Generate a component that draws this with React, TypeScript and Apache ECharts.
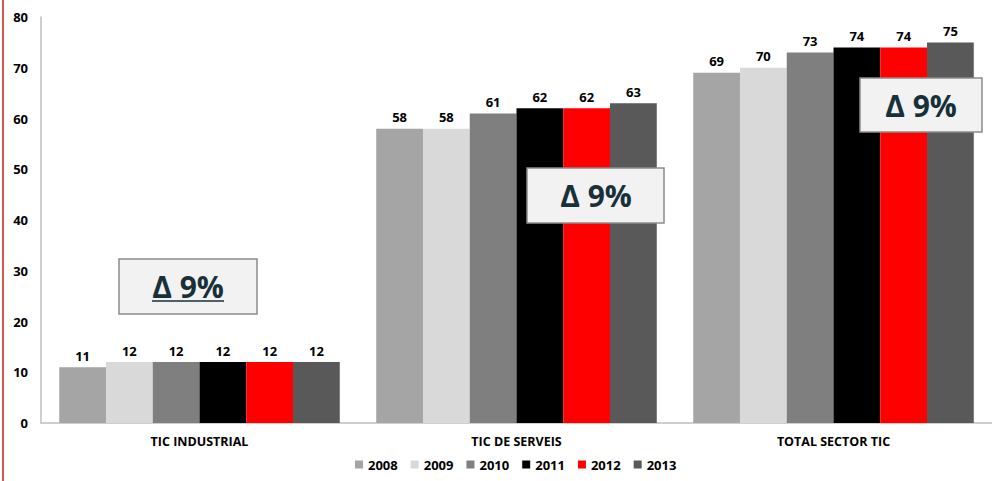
import React, { useEffect, useRef } from "react";
import * as echarts from "echarts";

const categories = ["TIC INDUSTRIAL", "TIC DE SERVEIS", "TOTAL SECTOR TIC"];
const years = ["2008", "2009", "2010", "2011", "2012", "2013"];
const values2008 = [11, 58, 69];
const values2009 = [12, 58, 70];
const values2010 = [12, 61, 73];
const values2011 = [12, 62, 74];
const values2012 = [12, 62, 74];
const values2013 = [12, 63, 75];
const seriesValues = [values2008, values2009, values2010, values2011, values2012, values2013];
const colors = ["#a5a5a5", "#d9d9d9", "#7f7f7f", "#000000", "#ff0000", "#595959"];
const yTicks = { min: 0, max: 80, interval: 10 };
const annotationText = "Δ 9%";

const FONT = "'Open Sans', sans-serif";

export default function App() {
  const ref = useRef<HTMLDivElement>(null);
  useEffect(() => {
    if (!ref.current) return;
    const chart = echarts.init(ref.current, null, { renderer: "svg" });
    const boxStyle = { fill: "#f2f2f2", stroke: "#8c8c8c", lineWidth: 1.5 };
    const textStyle = {
      text: annotationText,
      fill: "#17303a",
      font: `bold 30px ${FONT}`,
      textAlign: "center",
      textVerticalAlign: "middle",
    };
    chart.setOption({
      animation: false,
      textStyle: { fontFamily: FONT },
      grid: { left: 41, right: -9, top: 17, bottom: 58, containLabel: false },
      legend: {
        bottom: 5,
        left: 350,
        itemWidth: 8,
        itemHeight: 8,
        itemGap: 13,
        icon: "rect",
        textStyle: { fontSize: 13, fontWeight: "bold", color: "#000", fontFamily: FONT },
        data: years,
      },
      xAxis: {
        type: "category",
        data: categories,
        axisLine: { lineStyle: { color: "#bfbfbf", width: 1.5 } },
        axisTick: { show: false },
        axisLabel: { fontSize: 12.5, fontWeight: "bold", color: "#000", margin: 12, fontFamily: FONT },
      },
      yAxis: {
        type: "value",
        min: yTicks.min,
        max: yTicks.max,
        interval: yTicks.interval,
        axisLine: { show: true, lineStyle: { color: "#bfbfbf", width: 1.5 } },
        axisTick: { show: false },
        splitLine: { show: false },
        axisLabel: { fontSize: 13, fontWeight: "bold", color: "#000", margin: 13, fontFamily: FONT },
      },
      series: years.map((y, i) => ({
        name: y,
        type: "bar",
        data: seriesValues[i],
        barGap: "0%",
        barCategoryGap: "11.5%",
        itemStyle: { color: colors[i] },
        label: {
          show: true,
          position: "top",
          distance: 5,
          fontSize: 13,
          fontWeight: "bold",
          color: "#000",
          fontFamily: FONT,
        },
      })),
      graphic: [
        {
          type: "line",
          shape: { x1: 3, y1: 0, x2: 3, y2: 481 },
          style: { stroke: "#c81e1e", lineWidth: 1.5 },
          silent: true,
        },
        { type: "rect", shape: { x: 119, y: 259, width: 138, height: 55 }, style: boxStyle, z: 100 },
        { type: "text", x: 188, y: 286, style: textStyle, z: 101 },
        {
          type: "line",
          shape: { x1: 152, y1: 301, x2: 224, y2: 301 },
          style: { stroke: "#17303a", lineWidth: 1.5 },
          z: 101,
        },
        { type: "rect", shape: { x: 527, y: 168, width: 137, height: 55 }, style: boxStyle, z: 100 },
        { type: "text", x: 596, y: 195, style: textStyle, z: 101 },
        { type: "rect", shape: { x: 860, y: 78, width: 122, height: 54 }, style: boxStyle, z: 100 },
        { type: "text", x: 921, y: 105, style: textStyle, z: 101 },
      ],
    });
    return () => chart.dispose();
  }, []);
  return (
    <div
      ref={ref}
      style={{ position: "absolute", left: 0, top: 0, width: 992, height: 481, background: "#fff" }}
    />
  );
}
